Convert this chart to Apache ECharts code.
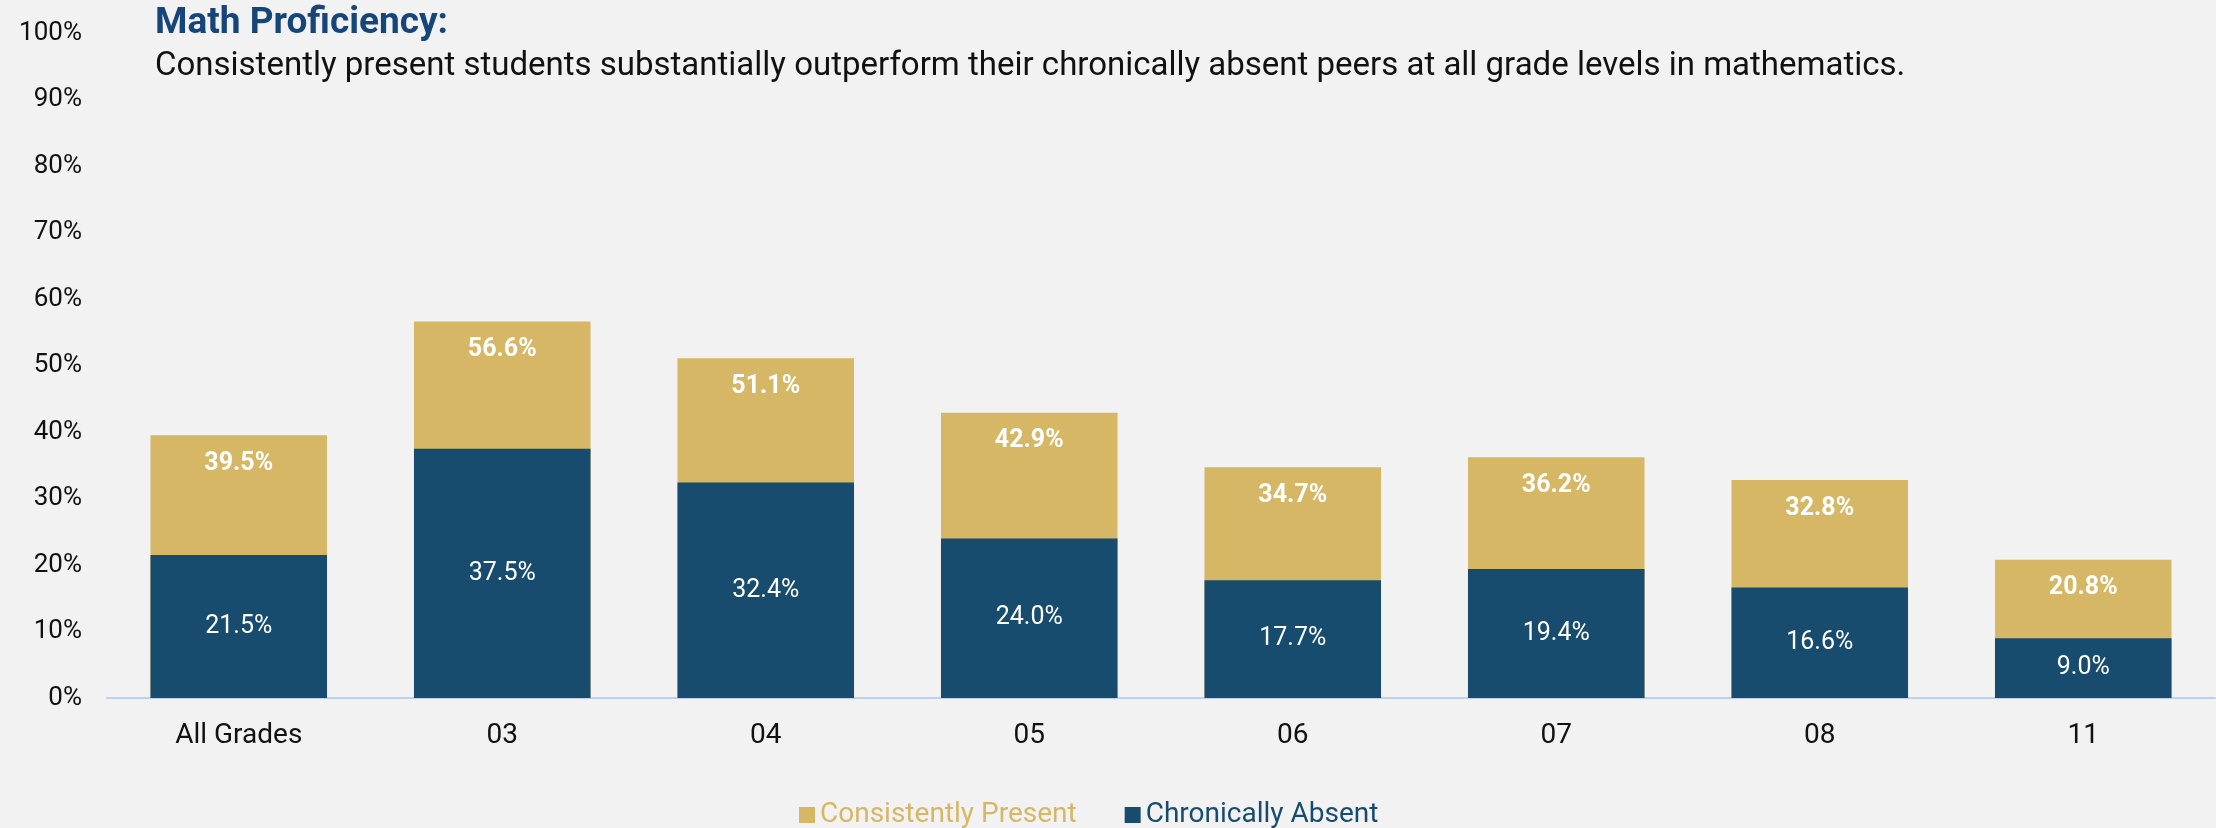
<!DOCTYPE html>
<html>
<head>
<meta charset="utf-8">
<script src="https://cdn.jsdelivr.net/npm/echarts@6/dist/echarts.min.js"></script>
<style>
html, body { margin: 0; padding: 0; background: #f2f2f2; }
#chart { width: 2216px; height: 828px; }
</style>
</head>
<body>
<div id="chart"></div>
<script>
const categories = ['All Grades', '03', '04', '05', '06', '07', '08', '11']
const presentValues = [39.5, 56.6, 51.1, 42.9, 34.7, 36.2, 32.8, 20.8]
const absentValues = [21.5, 37.5, 32.4, 24.0, 17.7, 19.4, 16.6, 9.0]

const FONT = "Roboto, 'Noto Sans', sans-serif"
const GOLD = '#d6b766'
const NAVY = '#174c6e'

let myChart = echarts.init(document.getElementById('chart'))
let option = {
  backgroundColor: '#f2f2f2',
  textStyle: { fontFamily: FONT },
  title: {
    text: 'Math Proficiency:',
    subtext: 'Consistently present students substantially outperform their chronically absent peers at all grade levels in mathematics.',
    left: 150,
    top: 0,
    itemGap: 8,
    textStyle: { color: '#16457a', fontSize: 37, fontWeight: 'bold', fontFamily: FONT },
    subtextStyle: { color: '#111', fontSize: 33, fontFamily: FONT }
  },
  legend: {
    top: 796,
    left: 794,
    itemWidth: 16,
    itemHeight: 16,
    itemGap: 48,
    icon: 'rect',
    textStyle: { fontSize: 28, fontFamily: FONT },
    data: [
      { name: 'Consistently Present', textStyle: { color: GOLD } },
      { name: 'Chronically Absent', textStyle: { color: NAVY } }
    ]
  },
  grid: {
    left: 107,
    right: 1,
    top: 33,
    bottom: 130,
    containLabel: false
  },
  xAxis: {
    type: 'category',
    data: categories,
    axisTick: { show: false },
    axisLine: { lineStyle: { color: '#bcd0f2', width: 2 } },
    axisLabel: { color: '#111', fontSize: 28, margin: 24, fontFamily: FONT }
  },
  yAxis: {
    type: 'value',
    min: 0,
    max: 100,
    interval: 10,
    splitLine: { show: false },
    axisLine: { show: false },
    axisTick: { show: false },
    axisLabel: { color: '#111', fontSize: 26, margin: 25, formatter: '{value}%', fontFamily: FONT }
  },
  series: [
    {
      name: 'Consistently Present',
      type: 'bar',
      data: presentValues,
      barWidth: '67%',
      barGap: '-100%',
      itemStyle: { color: GOLD },
      label: {
        show: true,
        position: 'insideTop',
        distance: 16,
        color: '#fff',
        fontWeight: 'bold',
        fontSize: 25,
        fontFamily: FONT,
        formatter: p => p.value.toFixed(1) + '%'
      }
    },
    {
      name: 'Chronically Absent',
      type: 'bar',
      data: absentValues,
      barWidth: '67%',
      itemStyle: { color: NAVY },
      label: {
        show: true,
        position: 'inside',
        color: '#fff',
        fontSize: 25,
        fontFamily: FONT,
        formatter: p => p.value.toFixed(1) + '%'
      }
    }
  ]
}
myChart.setOption(option)
</script>
</body>
</html>
